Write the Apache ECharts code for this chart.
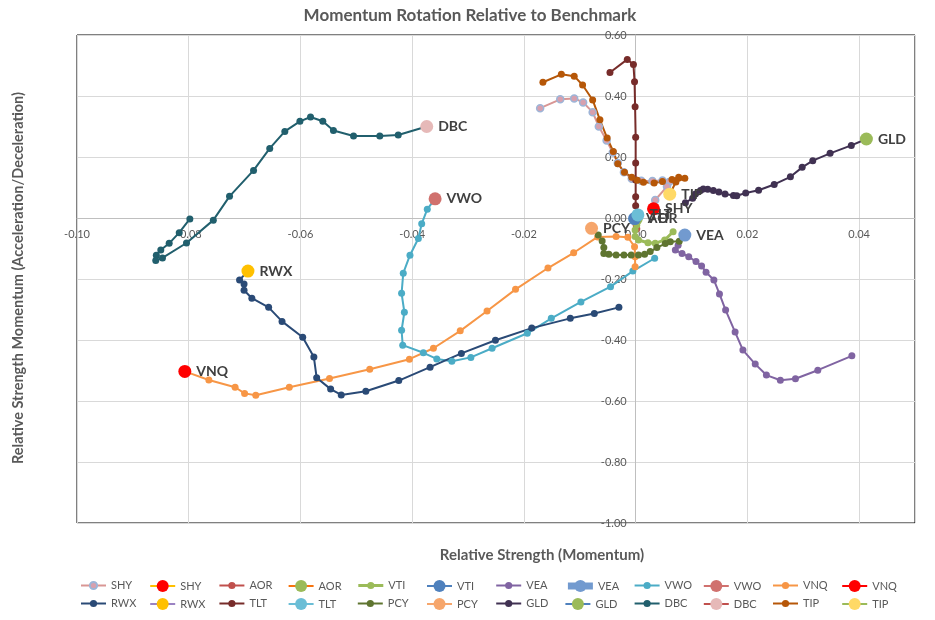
<!DOCTYPE html>
<html>
<head>
<meta charset="utf-8">
<script src="https://cdn.jsdelivr.net/npm/echarts@6/dist/echarts.min.js"></script>
<style>html,body{margin:0;padding:0;background:#fff}#c{width:935px;height:620px}</style>
</head>
<body>
<div id="c"></div>
<script>
// ---- Data (x = relative strength, y = momentum), oldest -> latest (last = head)
const tickers = ['SHY','AOR','VTI','VEA','VWO','VNQ','RWX','TLT','PCY','GLD','DBC','TIP'];
const xTicks = [-0.10,-0.08,-0.06,-0.04,-0.02,0.00,0.02,0.04];
const yTicks = [-1.00,-0.80,-0.60,-0.40,-0.20,0.00,0.20,0.40,0.60];

const SHY = [[-0.0171,0.360],[-0.0135,0.389],[-0.0110,0.392],[-0.0094,0.379],[-0.0077,0.347],[-0.0066,0.300],[-0.0052,0.254],[-0.0041,0.215],[-0.0032,0.180],[-0.0021,0.150],[-0.0007,0.129],[0.0010,0.122],[0.0030,0.121],[0.0048,0.123],[0.0060,0.118],[0.0056,0.103],[0.0035,0.059],[0.0032,0.030]];
const AOR = [[0.0002,-0.035],[0.0001,-0.024],[0.0000,-0.014],[-0.0001,-0.007],[0.0001,-0.003]];
const VTI = [[0.0067,-0.045],[0.0052,-0.072],[0.0035,-0.083],[0.0022,-0.081],[0.0005,-0.072],[-0.0001,-0.061],[-0.0001,-0.039],[0.0002,-0.023],[-0.0002,-0.002]];
const VEA = [[0.0387,-0.452],[0.0326,-0.499],[0.0286,-0.527],[0.0259,-0.532],[0.0234,-0.515],[0.0214,-0.479],[0.0192,-0.433],[0.0178,-0.374],[0.0161,-0.302],[0.0150,-0.249],[0.0140,-0.203],[0.0126,-0.178],[0.0118,-0.157],[0.0108,-0.143],[0.0095,-0.127],[0.0083,-0.116],[0.0071,-0.105],[0.0076,-0.089],[0.0088,-0.056]];
const VWO = [[0.0034,-0.132],[-0.0005,-0.174],[-0.0045,-0.225],[-0.0098,-0.275],[-0.0151,-0.329],[-0.0194,-0.378],[-0.0257,-0.427],[-0.0295,-0.457],[-0.0329,-0.470],[-0.0356,-0.462],[-0.0380,-0.442],[-0.0417,-0.417],[-0.0419,-0.368],[-0.0414,-0.309],[-0.0419,-0.247],[-0.0416,-0.181],[-0.0404,-0.122],[-0.0389,-0.067],[-0.0383,-0.019],[-0.0373,0.029],[-0.0359,0.063]];
const VNQ = [[-0.0001,-0.160],[-0.0001,-0.127],[-0.0002,-0.094],[-0.0014,-0.063],[-0.0035,-0.061],[-0.0068,-0.062],[-0.0111,-0.114],[-0.0157,-0.164],[-0.0215,-0.234],[-0.0266,-0.305],[-0.0314,-0.370],[-0.0362,-0.427],[-0.0405,-0.463],[-0.0476,-0.496],[-0.0548,-0.526],[-0.0620,-0.555],[-0.0680,-0.581],[-0.0700,-0.575],[-0.0717,-0.555],[-0.0764,-0.531],[-0.0807,-0.503]];
const RWX = [[-0.0030,-0.293],[-0.0074,-0.313],[-0.0117,-0.329],[-0.0186,-0.361],[-0.0251,-0.401],[-0.0312,-0.444],[-0.0368,-0.489],[-0.0424,-0.533],[-0.0483,-0.568],[-0.0527,-0.580],[-0.0546,-0.561],[-0.0571,-0.524],[-0.0576,-0.456],[-0.0596,-0.391],[-0.0633,-0.339],[-0.0657,-0.293],[-0.0687,-0.263],[-0.0701,-0.237],[-0.0701,-0.216],[-0.0709,-0.203],[-0.0694,-0.174]];
const TLT = [[-0.0046,0.477],[-0.0015,0.520],[-0.0004,0.503],[-0.0002,0.447],[-0.0001,0.365],[0.0000,0.265],[0.0000,0.180],[0.0000,0.125],[0.0000,0.070],[0.0000,0.040],[0.0004,0.010]];
const PCY = [[0.0078,-0.076],[0.0062,-0.078],[0.0053,-0.084],[0.0038,-0.097],[0.0026,-0.110],[0.0016,-0.119],[0.0005,-0.121],[-0.0008,-0.121],[-0.0021,-0.121],[-0.0035,-0.121],[-0.0048,-0.119],[-0.0057,-0.116],[-0.0057,-0.097],[-0.0060,-0.075],[-0.0067,-0.056],[-0.0079,-0.034]];
const GLD = [[0.0089,0.050],[0.0102,0.065],[0.0107,0.079],[0.0116,0.090],[0.0121,0.095],[0.0129,0.094],[0.0139,0.090],[0.0149,0.085],[0.0160,0.079],[0.0175,0.074],[0.0181,0.073],[0.0197,0.082],[0.0220,0.091],[0.0248,0.110],[0.0277,0.135],[0.0298,0.166],[0.0317,0.188],[0.0348,0.212],[0.0386,0.238],[0.0413,0.259]];
const DBC = [[-0.0798,-0.003],[-0.0817,-0.048],[-0.0835,-0.083],[-0.0850,-0.105],[-0.0858,-0.122],[-0.0859,-0.139],[-0.0847,-0.131],[-0.0804,-0.082],[-0.0756,-0.007],[-0.0727,0.071],[-0.0684,0.156],[-0.0655,0.228],[-0.0628,0.284],[-0.0601,0.317],[-0.0582,0.331],[-0.0560,0.317],[-0.0541,0.287],[-0.0505,0.269],[-0.0458,0.269],[-0.0425,0.272],[-0.0374,0.300]];
const TIP = [[-0.0166,0.445],[-0.0133,0.471],[-0.0110,0.465],[-0.0095,0.436],[-0.0077,0.387],[-0.0064,0.322],[-0.0051,0.262],[-0.0040,0.218],[-0.0032,0.178],[-0.0020,0.150],[-0.0007,0.134],[0.0003,0.124],[0.0014,0.117],[0.0033,0.115],[0.0048,0.120],[0.0065,0.126],[0.0077,0.134],[0.0088,0.130],[0.0072,0.118],[0.0061,0.078]];

const trails = {SHY,AOR,VTI,VEA,VWO,VNQ,RWX,TLT,PCY,GLD,DBC,TIP};

// ---- Styles
const trailStyle = {
  SHY:{line:'#D99694', fill:'#D7A0AE', border:'#9DB5D8'},
  AOR:{line:'#C0504D', fill:'#C0504D'},
  VTI:{line:'#9BBB59', fill:'#9BBB59', w:3},
  VEA:{line:'#8064A2', fill:'#8064A2'},
  VWO:{line:'#4BACC6', fill:'#4BACC6'},
  VNQ:{line:'#F79646', fill:'#F79646'},
  RWX:{line:'#2A4A76', fill:'#2A4A76'},
  TLT:{line:'#772C2A', fill:'#772C2A'},
  PCY:{line:'#5F7530', fill:'#5F7530'},
  GLD:{line:'#403152', fill:'#403152'},
  DBC:{line:'#215F6D', fill:'#215F6D'},
  TIP:{line:'#B65708', fill:'#B65708'}
};
const headStyle = {
  SHY:{line:'#FFC000', fill:'#FF0000'},
  AOR:{line:'#F7740F', fill:'#9BBB59'},
  VTI:{line:'#4F81BD', fill:'#4F81BD'},
  VEA:{line:'#729ACF', fill:'#729ACF', w:7},
  VWO:{line:'#D0716E', fill:'#D0716E'},
  VNQ:{line:'#FF0000', fill:'#FF0000'},
  RWX:{line:'#9B83C3', fill:'#FFC000'},
  TLT:{line:'#6BBED6', fill:'#6BBED6'},
  PCY:{line:'#F6A66C', fill:'#F6A66C'},
  GLD:{line:'#4F81BD', fill:'#9BBB59'},
  DBC:{line:'#C0504D', fill:'#E6B9B8'},
  TIP:{line:'#9BBB59', fill:'#FFD966'}
};

const FONT = 'Lato';
const series = [];
tickers.forEach(t => {
  const s = trailStyle[t];
  series.push({
    name: t, type: 'line', data: trails[t],
    symbol: 'circle', symbolSize: 7, showSymbol: true, showAllSymbol: true,
    lineStyle: {color: s.line, width: s.w || 2},
    itemStyle: {color: s.fill, borderColor: s.border || s.fill, borderWidth: s.border ? 1.5 : 0},
    emphasis: {disabled: true}, z: 2
  });
  const h = headStyle[t];
  const pts = trails[t];
  series.push({
    name: t + ' ', type: 'line', data: [pts[pts.length - 1]],
    symbol: 'circle', symbolSize: 13, showSymbol: true,
    lineStyle: {color: h.line, width: h.w || 2},
    itemStyle: {color: h.fill},
    label: {show: true, position: 'right', distance: 5, formatter: t,
      fontFamily: FONT, fontWeight: 'bold', fontSize: 14, color: '#404040'},
    emphasis: {disabled: true}, z: 3
  });
});

// Legend: 2 rows x 12 items, one component per item for an even pitch
const legends = [];
tickers.forEach((t, i) => {
  const row = Math.floor(i / 6), col = (i % 6) * 2;
  const cy = row === 0 ? 585 : 603;
  [[t, 9, trailStyle[t].w || 2, -0.5], [t + ' ', 15, headStyle[t].w || 2, 2.5]].forEach(([name, ih, lw, dy], k) => {
    legends.push({
      data: [name], left: 80 + (col + k) * 69.2, top: cy - ih / 2 + dy,
      itemWidth: 25, itemHeight: ih, selectedMode: false, padding: 0,
      lineStyle: {width: lw},
      textStyle: {fontFamily: FONT, fontSize: 11, color: '#595959'}
    });
  });
});

const GRID = {left: 77, right: 20, top: 35, bottom: 97};
const chart = echarts.init(document.getElementById('c'), null, {renderer: 'canvas'});
chart.setOption({
  animation: false,
  textStyle: {fontFamily: FONT},
  grid: Object.assign({show: true, borderColor: '#000', borderWidth: 1}, GRID),
  xAxis: {
    type: 'value', min: xTicks[0], max: 0.05, interval: 0.02,
    axisLine: {onZero: false, lineStyle: {color: '#BFBFBF'}},
    axisTick: {show: false},
    axisLabel: {color: '#595959', fontSize: 11, fontFamily: FONT, showMaxLabel: false, margin: 11,
      formatter: v => v.toFixed(2)},
    splitLine: {lineStyle: {color: '#D9D9D9'}}
  },
  yAxis: {
    type: 'value', min: yTicks[0], max: yTicks[yTicks.length - 1], interval: 0.2,
    axisLine: {onZero: false, lineStyle: {color: '#BFBFBF'}},
    axisTick: {show: false},
    axisLabel: {color: '#595959', fontSize: 11, fontFamily: FONT, margin: 9, formatter: v => v.toFixed(2)},
    splitLine: {lineStyle: {color: '#D9D9D9'}}
  },
  legend: legends,
  graphic: [
    {type: 'text', x: 470, y: 16, style: {text: 'Momentum Rotation Relative to Benchmark', fontFamily: FONT, fontWeight: 'bold', fontSize: 17, fill: '#595959', textAlign: 'center', textVerticalAlign: 'middle'}},
    {type: 'text', x: 542, y: 555, style: {text: 'Relative Strength (Momentum)', fontFamily: FONT, fontWeight: 'bold', fontSize: 15, fill: '#595959', textAlign: 'center', textVerticalAlign: 'middle'}},
    {type: 'text', x: 18, y: 278, rotation: Math.PI / 2, style: {text: 'Relative Strength Momentum (Acceleration/Deceleration)', fontFamily: FONT, fontWeight: 'bold', fontSize: 14.5, fill: '#595959', textAlign: 'center', textVerticalAlign: 'middle'}}
  ],
  series: series
});

// Move both axes (line + labels) onto the zero crossing, using the library's own scales
const x0 = chart.convertToPixel({xAxisIndex: 0}, 0);
const xMinPx = chart.convertToPixel({xAxisIndex: 0}, xTicks[0]);
const y0 = chart.convertToPixel({yAxisIndex: 0}, 0);
const yMinPx = chart.convertToPixel({yAxisIndex: 0}, yTicks[0]);
chart.setOption({
  xAxis: {offset: -(yMinPx - y0)},
  yAxis: {offset: -(x0 - xMinPx)}
});
</script>
</body>
</html>
